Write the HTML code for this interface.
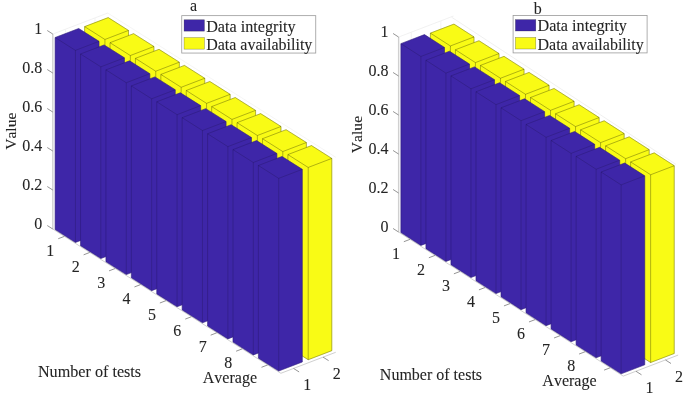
<!DOCTYPE html>
<html><head><meta charset="utf-8"><title>Figure</title>
<style>
html,body{margin:0;padding:0;background:#fff;}
svg{display:block;will-change:transform;}
text{font-family:"Liberation Serif","DejaVu Serif",serif;fill:#242424;stroke:#242424;stroke-width:0.08px;font-kerning:none;}
</style></head><body>
<svg width="685" height="397" viewBox="0 0 685 397">
<rect width="685" height="397" fill="#fff"/>
<g>
<line x1="52.82" y1="34.06" x2="107.69" y2="13.04" stroke="#eeeeee" stroke-width="0.8" stroke-opacity="1"/>
<line x1="107.69" y1="13.04" x2="335.75" y2="157.27" stroke="#f3f3f3" stroke-width="0.8" stroke-opacity="1"/>
<line x1="65.51" y1="224.20" x2="65.51" y2="29.20" stroke="#f0f0f0" stroke-width="0.8" stroke-opacity="1"/>
<line x1="95.01" y1="212.90" x2="95.01" y2="17.90" stroke="#f0f0f0" stroke-width="0.8" stroke-opacity="1"/>
<line x1="52.82" y1="229.06" x2="52.82" y2="34.06" stroke="#d0d0d0" stroke-width="1.4" stroke-opacity="1"/>
<line x1="52.82" y1="229.06" x2="280.88" y2="373.29" stroke="#d0d0d0" stroke-width="1" stroke-opacity="1"/>
<line x1="280.88" y1="373.29" x2="335.75" y2="352.27" stroke="#d0d0d0" stroke-width="1" stroke-opacity="1"/>
<line x1="52.82" y1="229.06" x2="47.25" y2="225.53" stroke="#7a7a7a" stroke-width="0.8" stroke-opacity="1"/>
<text x="42.25" y="228.83" font-size="16" text-anchor="end" >0</text>
<line x1="52.82" y1="190.06" x2="47.25" y2="186.53" stroke="#7a7a7a" stroke-width="0.8" stroke-opacity="1"/>
<text x="42.25" y="189.83" font-size="16" text-anchor="end" >0.2</text>
<line x1="52.82" y1="151.06" x2="47.25" y2="147.53" stroke="#7a7a7a" stroke-width="0.8" stroke-opacity="1"/>
<text x="42.25" y="150.83" font-size="16" text-anchor="end" >0.4</text>
<line x1="52.82" y1="112.06" x2="47.25" y2="108.53" stroke="#7a7a7a" stroke-width="0.8" stroke-opacity="1"/>
<text x="42.25" y="111.83" font-size="16" text-anchor="end" >0.6</text>
<line x1="52.82" y1="73.06" x2="47.25" y2="69.53" stroke="#7a7a7a" stroke-width="0.8" stroke-opacity="1"/>
<text x="42.25" y="72.83" font-size="16" text-anchor="end" >0.8</text>
<line x1="52.82" y1="34.06" x2="47.25" y2="30.53" stroke="#7a7a7a" stroke-width="0.8" stroke-opacity="1"/>
<text x="42.25" y="33.83" font-size="16" text-anchor="end" >1</text>
<line x1="64.38" y1="236.37" x2="58.22" y2="238.73" stroke="#7a7a7a" stroke-width="0.8" stroke-opacity="1"/>
<text x="50.32" y="255.93" font-size="16" text-anchor="middle" >1</text>
<line x1="89.79" y1="252.44" x2="83.63" y2="254.80" stroke="#7a7a7a" stroke-width="0.8" stroke-opacity="1"/>
<text x="75.73" y="272.00" font-size="16" text-anchor="middle" >2</text>
<line x1="115.20" y1="268.51" x2="109.04" y2="270.87" stroke="#7a7a7a" stroke-width="0.8" stroke-opacity="1"/>
<text x="101.14" y="288.07" font-size="16" text-anchor="middle" >3</text>
<line x1="140.62" y1="284.58" x2="134.45" y2="286.94" stroke="#7a7a7a" stroke-width="0.8" stroke-opacity="1"/>
<text x="126.55" y="304.14" font-size="16" text-anchor="middle" >4</text>
<line x1="166.02" y1="300.65" x2="159.86" y2="303.01" stroke="#7a7a7a" stroke-width="0.8" stroke-opacity="1"/>
<text x="151.96" y="320.21" font-size="16" text-anchor="middle" >5</text>
<line x1="191.44" y1="316.72" x2="185.27" y2="319.08" stroke="#7a7a7a" stroke-width="0.8" stroke-opacity="1"/>
<text x="177.37" y="336.28" font-size="16" text-anchor="middle" >6</text>
<line x1="216.84" y1="332.79" x2="210.68" y2="335.15" stroke="#7a7a7a" stroke-width="0.8" stroke-opacity="1"/>
<text x="202.78" y="352.35" font-size="16" text-anchor="middle" >7</text>
<line x1="242.25" y1="348.86" x2="236.09" y2="351.22" stroke="#7a7a7a" stroke-width="0.8" stroke-opacity="1"/>
<text x="228.19" y="368.42" font-size="16" text-anchor="middle" >8</text>
<line x1="267.66" y1="364.93" x2="261.50" y2="367.29" stroke="#7a7a7a" stroke-width="0.8" stroke-opacity="1"/>
<text x="229.90" y="382.70" font-size="16" text-anchor="middle" >Average</text>
<line x1="293.56" y1="368.43" x2="299.14" y2="371.95" stroke="#7a7a7a" stroke-width="0.8" stroke-opacity="1"/>
<text x="307.14" y="390.15" font-size="16" text-anchor="middle" >1</text>
<line x1="323.06" y1="357.13" x2="328.64" y2="360.65" stroke="#7a7a7a" stroke-width="0.8" stroke-opacity="1"/>
<text x="336.64" y="378.85" font-size="16" text-anchor="middle" >2</text>
<polygon points="84.61,218.30 104.93,231.16 128.53,222.12 128.53,30.43 108.21,17.58 84.61,26.62" fill="#f9fb15" stroke="#f9fb15" stroke-width="0.5" stroke-linejoin="round"/>
<path d="M84.61 218.30 L104.93 231.16 L128.53 222.12 L128.53 30.43 L108.21 17.58 L84.61 26.62Z M84.61 26.62 L104.93 39.47 L128.53 30.43 M104.93 231.16 L104.93 39.47" fill="none" stroke="#000" stroke-opacity="0.42" stroke-width="0.7" stroke-linejoin="round"/>
<polygon points="110.02,234.37 130.34,247.23 153.94,238.19 153.94,46.50 133.62,33.65 110.02,42.69" fill="#f9fb15" stroke="#f9fb15" stroke-width="0.5" stroke-linejoin="round"/>
<path d="M110.02 234.37 L130.34 247.23 L153.94 238.19 L153.94 46.50 L133.62 33.65 L110.02 42.69Z M110.02 42.69 L130.34 55.54 L153.94 46.50 M130.34 247.23 L130.34 55.54" fill="none" stroke="#000" stroke-opacity="0.42" stroke-width="0.7" stroke-linejoin="round"/>
<polygon points="135.43,250.44 155.75,263.30 179.35,254.26 179.35,62.18 159.03,49.33 135.43,58.37" fill="#f9fb15" stroke="#f9fb15" stroke-width="0.5" stroke-linejoin="round"/>
<path d="M135.43 250.44 L155.75 263.30 L179.35 254.26 L179.35 62.18 L159.03 49.33 L135.43 58.37Z M135.43 58.37 L155.75 71.22 L179.35 62.18 M155.75 263.30 L155.75 71.22" fill="none" stroke="#000" stroke-opacity="0.42" stroke-width="0.7" stroke-linejoin="round"/>
<polygon points="160.84,266.51 181.16,279.37 204.76,270.33 204.76,78.25 184.44,65.40 160.84,74.44" fill="#f9fb15" stroke="#f9fb15" stroke-width="0.5" stroke-linejoin="round"/>
<path d="M160.84 266.51 L181.16 279.37 L204.76 270.33 L204.76 78.25 L184.44 65.40 L160.84 74.44Z M160.84 74.44 L181.16 87.29 L204.76 78.25 M181.16 279.37 L181.16 87.29" fill="none" stroke="#000" stroke-opacity="0.42" stroke-width="0.7" stroke-linejoin="round"/>
<polygon points="186.25,282.58 206.57,295.44 230.17,286.40 230.17,94.32 209.85,81.47 186.25,90.51" fill="#f9fb15" stroke="#f9fb15" stroke-width="0.5" stroke-linejoin="round"/>
<path d="M186.25 282.58 L206.57 295.44 L230.17 286.40 L230.17 94.32 L209.85 81.47 L186.25 90.51Z M186.25 90.51 L206.57 103.36 L230.17 94.32 M206.57 295.44 L206.57 103.36" fill="none" stroke="#000" stroke-opacity="0.42" stroke-width="0.7" stroke-linejoin="round"/>
<polygon points="211.66,298.65 231.98,311.51 255.58,302.47 255.58,110.39 235.26,97.54 211.66,106.58" fill="#f9fb15" stroke="#f9fb15" stroke-width="0.5" stroke-linejoin="round"/>
<path d="M211.66 298.65 L231.98 311.51 L255.58 302.47 L255.58 110.39 L235.26 97.54 L211.66 106.58Z M211.66 106.58 L231.98 119.43 L255.58 110.39 M231.98 311.51 L231.98 119.43" fill="none" stroke="#000" stroke-opacity="0.42" stroke-width="0.7" stroke-linejoin="round"/>
<polygon points="237.07,314.72 257.39,327.58 280.99,318.54 280.99,126.46 260.67,113.61 237.07,122.65" fill="#f9fb15" stroke="#f9fb15" stroke-width="0.5" stroke-linejoin="round"/>
<path d="M237.07 314.72 L257.39 327.58 L280.99 318.54 L280.99 126.46 L260.67 113.61 L237.07 122.65Z M237.07 122.65 L257.39 135.50 L280.99 126.46 M257.39 327.58 L257.39 135.50" fill="none" stroke="#000" stroke-opacity="0.42" stroke-width="0.7" stroke-linejoin="round"/>
<polygon points="262.48,330.79 282.80,343.65 306.40,334.61 306.40,142.53 286.08,129.68 262.48,138.72" fill="#f9fb15" stroke="#f9fb15" stroke-width="0.5" stroke-linejoin="round"/>
<path d="M262.48 330.79 L282.80 343.65 L306.40 334.61 L306.40 142.53 L286.08 129.68 L262.48 138.72Z M262.48 138.72 L282.80 151.57 L306.40 142.53 M282.80 343.65 L282.80 151.57" fill="none" stroke="#000" stroke-opacity="0.42" stroke-width="0.7" stroke-linejoin="round"/>
<polygon points="287.89,346.86 308.21,359.72 331.81,350.68 331.81,158.41 311.49,145.55 287.89,154.59" fill="#f9fb15" stroke="#f9fb15" stroke-width="0.5" stroke-linejoin="round"/>
<path d="M287.89 346.86 L308.21 359.72 L331.81 350.68 L331.81 158.41 L311.49 145.55 L287.89 154.59Z M287.89 154.59 L308.21 167.45 L331.81 158.41 M308.21 359.72 L308.21 167.45" fill="none" stroke="#000" stroke-opacity="0.42" stroke-width="0.7" stroke-linejoin="round"/>
<polygon points="55.11,229.60 75.43,242.46 99.03,233.42 99.03,41.34 78.71,28.49 55.11,37.53" fill="#3e26a8" stroke="#3e26a8" stroke-width="0.5" stroke-linejoin="round"/>
<path d="M55.11 229.60 L75.43 242.46 L99.03 233.42 L99.03 41.34 L78.71 28.49 L55.11 37.53Z M55.11 37.53 L75.43 50.38 L99.03 41.34 M75.43 242.46 L75.43 50.38" fill="none" stroke="#000" stroke-opacity="0.22" stroke-width="0.7" stroke-linejoin="round"/>
<polygon points="80.52,245.67 100.84,258.53 124.44,249.49 124.44,57.80 104.12,44.95 80.52,53.99" fill="#3e26a8" stroke="#3e26a8" stroke-width="0.5" stroke-linejoin="round"/>
<path d="M80.52 245.67 L100.84 258.53 L124.44 249.49 L124.44 57.80 L104.12 44.95 L80.52 53.99Z M80.52 53.99 L100.84 66.84 L124.44 57.80 M100.84 258.53 L100.84 66.84" fill="none" stroke="#000" stroke-opacity="0.22" stroke-width="0.7" stroke-linejoin="round"/>
<polygon points="105.93,261.74 126.25,274.60 149.85,265.56 149.85,73.68 129.53,60.82 105.93,69.86" fill="#3e26a8" stroke="#3e26a8" stroke-width="0.5" stroke-linejoin="round"/>
<path d="M105.93 261.74 L126.25 274.60 L149.85 265.56 L149.85 73.68 L129.53 60.82 L105.93 69.86Z M105.93 69.86 L126.25 82.72 L149.85 73.68 M126.25 274.60 L126.25 82.72" fill="none" stroke="#000" stroke-opacity="0.22" stroke-width="0.7" stroke-linejoin="round"/>
<polygon points="131.34,277.81 151.66,290.67 175.26,281.63 175.26,89.75 154.94,76.89 131.34,85.93" fill="#3e26a8" stroke="#3e26a8" stroke-width="0.5" stroke-linejoin="round"/>
<path d="M131.34 277.81 L151.66 290.67 L175.26 281.63 L175.26 89.75 L154.94 76.89 L131.34 85.93Z M131.34 85.93 L151.66 98.79 L175.26 89.75 M151.66 290.67 L151.66 98.79" fill="none" stroke="#000" stroke-opacity="0.22" stroke-width="0.7" stroke-linejoin="round"/>
<polygon points="156.75,293.88 177.07,306.74 200.67,297.70 200.67,105.62 180.35,92.77 156.75,101.81" fill="#3e26a8" stroke="#3e26a8" stroke-width="0.5" stroke-linejoin="round"/>
<path d="M156.75 293.88 L177.07 306.74 L200.67 297.70 L200.67 105.62 L180.35 92.77 L156.75 101.81Z M156.75 101.81 L177.07 114.66 L200.67 105.62 M177.07 306.74 L177.07 114.66" fill="none" stroke="#000" stroke-opacity="0.22" stroke-width="0.7" stroke-linejoin="round"/>
<polygon points="182.16,309.95 202.48,322.81 226.08,313.77 226.08,121.50 205.76,108.64 182.16,117.68" fill="#3e26a8" stroke="#3e26a8" stroke-width="0.5" stroke-linejoin="round"/>
<path d="M182.16 309.95 L202.48 322.81 L226.08 313.77 L226.08 121.50 L205.76 108.64 L182.16 117.68Z M182.16 117.68 L202.48 130.54 L226.08 121.50 M202.48 322.81 L202.48 130.54" fill="none" stroke="#000" stroke-opacity="0.22" stroke-width="0.7" stroke-linejoin="round"/>
<polygon points="207.57,326.02 227.89,338.88 251.49,329.84 251.49,137.57 231.17,124.71 207.57,133.75" fill="#3e26a8" stroke="#3e26a8" stroke-width="0.5" stroke-linejoin="round"/>
<path d="M207.57 326.02 L227.89 338.88 L251.49 329.84 L251.49 137.57 L231.17 124.71 L207.57 133.75Z M207.57 133.75 L227.89 146.61 L251.49 137.57 M227.89 338.88 L227.89 146.61" fill="none" stroke="#000" stroke-opacity="0.22" stroke-width="0.7" stroke-linejoin="round"/>
<polygon points="232.98,342.09 253.30,354.95 276.90,345.91 276.90,153.44 256.58,140.59 232.98,149.63" fill="#3e26a8" stroke="#3e26a8" stroke-width="0.5" stroke-linejoin="round"/>
<path d="M232.98 342.09 L253.30 354.95 L276.90 345.91 L276.90 153.44 L256.58 140.59 L232.98 149.63Z M232.98 149.63 L253.30 162.48 L276.90 153.44 M253.30 354.95 L253.30 162.48" fill="none" stroke="#000" stroke-opacity="0.22" stroke-width="0.7" stroke-linejoin="round"/>
<polygon points="258.39,358.16 278.71,371.02 302.31,361.98 302.31,169.32 281.99,156.46 258.39,165.50" fill="#3e26a8" stroke="#3e26a8" stroke-width="0.5" stroke-linejoin="round"/>
<path d="M258.39 358.16 L278.71 371.02 L302.31 361.98 L302.31 169.32 L281.99 156.46 L258.39 165.50Z M258.39 165.50 L278.71 178.36 L302.31 169.32 M278.71 371.02 L278.71 178.36" fill="none" stroke="#000" stroke-opacity="0.22" stroke-width="0.7" stroke-linejoin="round"/>
<text transform="translate(15.62,131.26) rotate(-90)" font-size="15.6" text-anchor="middle">Value</text>
<text x="89.55" y="377.10" font-size="16.17" text-anchor="middle" >Number of tests</text>
<text x="193.50" y="11.10" font-size="16" text-anchor="middle" >a</text>
<rect x="181.75" y="15.65" width="134.0" height="37.4" fill="#fff" stroke="#9a9a9a" stroke-width="0.8"/>
<rect x="184.05" y="19.75" width="20.4" height="11.4" fill="#3e26a8" stroke="#222" stroke-opacity="0.5" stroke-width="0.5"/>
<rect x="184.05" y="37.55" width="20.4" height="11.6" fill="#f9fb15" stroke="#222" stroke-opacity="0.5" stroke-width="0.5"/>
<text x="206.15" y="31.55" font-size="16.2" text-anchor="start" >Data integrity</text>
<text x="206.15" y="49.65" font-size="16" text-anchor="start" >Data availability</text>
</g>
<g>
<line x1="398.62" y1="37.05" x2="453.49" y2="16.03" stroke="#eeeeee" stroke-width="0.8" stroke-opacity="1"/>
<line x1="451.60" y1="17.20" x2="676.00" y2="164.40" stroke="#ececec" stroke-width="0.8" stroke-opacity="1"/>
<line x1="411.30" y1="227.19" x2="411.30" y2="32.19" stroke="#f0f0f0" stroke-width="0.8" stroke-opacity="1"/>
<line x1="440.80" y1="215.89" x2="440.80" y2="20.89" stroke="#f0f0f0" stroke-width="0.8" stroke-opacity="1"/>
<line x1="398.62" y1="232.05" x2="398.62" y2="37.05" stroke="#d0d0d0" stroke-width="1.4" stroke-opacity="1"/>
<line x1="398.62" y1="232.05" x2="623.26" y2="376.10" stroke="#d0d0d0" stroke-width="1" stroke-opacity="1"/>
<line x1="623.26" y1="376.10" x2="678.13" y2="355.08" stroke="#d0d0d0" stroke-width="1" stroke-opacity="1"/>
<line x1="398.62" y1="232.05" x2="393.06" y2="228.48" stroke="#7a7a7a" stroke-width="0.8" stroke-opacity="1"/>
<text x="388.56" y="231.78" font-size="16" text-anchor="end" >0</text>
<line x1="398.62" y1="193.05" x2="393.06" y2="189.48" stroke="#7a7a7a" stroke-width="0.8" stroke-opacity="1"/>
<text x="388.56" y="192.78" font-size="16" text-anchor="end" >0.2</text>
<line x1="398.62" y1="154.05" x2="393.06" y2="150.48" stroke="#7a7a7a" stroke-width="0.8" stroke-opacity="1"/>
<text x="388.56" y="153.78" font-size="16" text-anchor="end" >0.4</text>
<line x1="398.62" y1="115.05" x2="393.06" y2="111.48" stroke="#7a7a7a" stroke-width="0.8" stroke-opacity="1"/>
<text x="388.56" y="114.78" font-size="16" text-anchor="end" >0.6</text>
<line x1="398.62" y1="76.05" x2="393.06" y2="72.48" stroke="#7a7a7a" stroke-width="0.8" stroke-opacity="1"/>
<text x="388.56" y="75.78" font-size="16" text-anchor="end" >0.8</text>
<line x1="398.62" y1="37.05" x2="393.06" y2="33.48" stroke="#7a7a7a" stroke-width="0.8" stroke-opacity="1"/>
<text x="388.56" y="36.78" font-size="16" text-anchor="end" >1</text>
<line x1="410.00" y1="239.35" x2="403.84" y2="241.71" stroke="#7a7a7a" stroke-width="0.8" stroke-opacity="1"/>
<text x="395.94" y="258.91" font-size="16" text-anchor="middle" >1</text>
<line x1="435.04" y1="255.40" x2="428.87" y2="257.76" stroke="#7a7a7a" stroke-width="0.8" stroke-opacity="1"/>
<text x="420.97" y="274.96" font-size="16" text-anchor="middle" >2</text>
<line x1="460.07" y1="271.45" x2="453.90" y2="273.81" stroke="#7a7a7a" stroke-width="0.8" stroke-opacity="1"/>
<text x="446.00" y="291.01" font-size="16" text-anchor="middle" >3</text>
<line x1="485.10" y1="287.50" x2="478.93" y2="289.86" stroke="#7a7a7a" stroke-width="0.8" stroke-opacity="1"/>
<text x="471.03" y="307.06" font-size="16" text-anchor="middle" >4</text>
<line x1="510.12" y1="303.55" x2="503.96" y2="305.91" stroke="#7a7a7a" stroke-width="0.8" stroke-opacity="1"/>
<text x="496.06" y="323.11" font-size="16" text-anchor="middle" >5</text>
<line x1="535.15" y1="319.60" x2="528.99" y2="321.96" stroke="#7a7a7a" stroke-width="0.8" stroke-opacity="1"/>
<text x="521.09" y="339.16" font-size="16" text-anchor="middle" >6</text>
<line x1="560.19" y1="335.65" x2="554.02" y2="338.01" stroke="#7a7a7a" stroke-width="0.8" stroke-opacity="1"/>
<text x="546.12" y="355.21" font-size="16" text-anchor="middle" >7</text>
<line x1="585.22" y1="351.70" x2="579.05" y2="354.06" stroke="#7a7a7a" stroke-width="0.8" stroke-opacity="1"/>
<text x="571.15" y="371.26" font-size="16" text-anchor="middle" >8</text>
<line x1="610.25" y1="367.75" x2="604.08" y2="370.11" stroke="#7a7a7a" stroke-width="0.8" stroke-opacity="1"/>
<text x="569.45" y="385.60" font-size="16" text-anchor="middle" >Average</text>
<line x1="635.95" y1="371.24" x2="641.50" y2="374.80" stroke="#7a7a7a" stroke-width="0.8" stroke-opacity="1"/>
<text x="649.50" y="393.00" font-size="16" text-anchor="middle" >1</text>
<line x1="665.45" y1="359.94" x2="671.00" y2="363.50" stroke="#7a7a7a" stroke-width="0.8" stroke-opacity="1"/>
<text x="679.00" y="381.70" font-size="16" text-anchor="middle" >2</text>
<polygon points="430.38,221.29 450.40,234.13 474.00,225.09 474.00,36.92 453.98,24.08 430.38,33.12" fill="#f9fb15" stroke="#f9fb15" stroke-width="0.5" stroke-linejoin="round"/>
<path d="M430.38 221.29 L450.40 234.13 L474.00 225.09 L474.00 36.92 L453.98 24.08 L430.38 33.12Z M430.38 33.12 L450.40 45.96 L474.00 36.92 M450.40 234.13 L450.40 45.96" fill="none" stroke="#000" stroke-opacity="0.42" stroke-width="0.7" stroke-linejoin="round"/>
<polygon points="455.41,237.34 475.43,250.18 499.03,241.14 499.03,53.55 479.01,40.71 455.41,49.75" fill="#f9fb15" stroke="#f9fb15" stroke-width="0.5" stroke-linejoin="round"/>
<path d="M455.41 237.34 L475.43 250.18 L499.03 241.14 L499.03 53.55 L479.01 40.71 L455.41 49.75Z M455.41 49.75 L475.43 62.59 L499.03 53.55 M475.43 250.18 L475.43 62.59" fill="none" stroke="#000" stroke-opacity="0.42" stroke-width="0.7" stroke-linejoin="round"/>
<polygon points="480.44,253.39 500.46,266.23 524.06,257.19 524.06,69.21 504.04,56.37 480.44,65.41" fill="#f9fb15" stroke="#f9fb15" stroke-width="0.5" stroke-linejoin="round"/>
<path d="M480.44 253.39 L500.46 266.23 L524.06 257.19 L524.06 69.21 L504.04 56.37 L480.44 65.41Z M480.44 65.41 L500.46 78.25 L524.06 69.21 M500.46 266.23 L500.46 78.25" fill="none" stroke="#000" stroke-opacity="0.42" stroke-width="0.7" stroke-linejoin="round"/>
<polygon points="505.47,269.44 525.49,282.28 549.09,273.24 549.09,85.26 529.07,72.42 505.47,81.46" fill="#f9fb15" stroke="#f9fb15" stroke-width="0.5" stroke-linejoin="round"/>
<path d="M505.47 269.44 L525.49 282.28 L549.09 273.24 L549.09 85.26 L529.07 72.42 L505.47 81.46Z M505.47 81.46 L525.49 94.30 L549.09 85.26 M525.49 282.28 L525.49 94.30" fill="none" stroke="#000" stroke-opacity="0.42" stroke-width="0.7" stroke-linejoin="round"/>
<polygon points="530.50,285.49 550.52,298.33 574.12,289.29 574.12,101.31 554.10,88.47 530.50,97.51" fill="#f9fb15" stroke="#f9fb15" stroke-width="0.5" stroke-linejoin="round"/>
<path d="M530.50 285.49 L550.52 298.33 L574.12 289.29 L574.12 101.31 L554.10 88.47 L530.50 97.51Z M530.50 97.51 L550.52 110.35 L574.12 101.31 M550.52 298.33 L550.52 110.35" fill="none" stroke="#000" stroke-opacity="0.42" stroke-width="0.7" stroke-linejoin="round"/>
<polygon points="555.53,301.54 575.55,314.38 599.15,305.34 599.15,117.56 579.13,104.72 555.53,113.75" fill="#f9fb15" stroke="#f9fb15" stroke-width="0.5" stroke-linejoin="round"/>
<path d="M555.53 301.54 L575.55 314.38 L599.15 305.34 L599.15 117.56 L579.13 104.72 L555.53 113.75Z M555.53 113.75 L575.55 126.59 L599.15 117.56 M575.55 314.38 L575.55 126.59" fill="none" stroke="#000" stroke-opacity="0.42" stroke-width="0.7" stroke-linejoin="round"/>
<polygon points="580.56,317.59 600.58,330.43 624.18,321.39 624.18,133.60 604.16,120.77 580.56,129.80" fill="#f9fb15" stroke="#f9fb15" stroke-width="0.5" stroke-linejoin="round"/>
<path d="M580.56 317.59 L600.58 330.43 L624.18 321.39 L624.18 133.60 L604.16 120.77 L580.56 129.80Z M580.56 129.80 L600.58 142.65 L624.18 133.60 M600.58 330.43 L600.58 142.65" fill="none" stroke="#000" stroke-opacity="0.42" stroke-width="0.7" stroke-linejoin="round"/>
<polygon points="605.59,333.64 625.61,346.48 649.21,337.44 649.21,149.66 629.19,136.82 605.59,145.85" fill="#f9fb15" stroke="#f9fb15" stroke-width="0.5" stroke-linejoin="round"/>
<path d="M605.59 333.64 L625.61 346.48 L649.21 337.44 L649.21 149.66 L629.19 136.82 L605.59 145.85Z M605.59 145.85 L625.61 158.70 L649.21 149.66 M625.61 346.48 L625.61 158.70" fill="none" stroke="#000" stroke-opacity="0.42" stroke-width="0.7" stroke-linejoin="round"/>
<polygon points="630.62,349.69 650.64,362.53 674.24,353.49 674.24,165.71 654.22,152.86 630.62,161.91" fill="#f9fb15" stroke="#f9fb15" stroke-width="0.5" stroke-linejoin="round"/>
<path d="M630.62 349.69 L650.64 362.53 L674.24 353.49 L674.24 165.71 L654.22 152.86 L630.62 161.91Z M630.62 161.91 L650.64 174.74 L674.24 165.71 M650.64 362.53 L650.64 174.74" fill="none" stroke="#000" stroke-opacity="0.42" stroke-width="0.7" stroke-linejoin="round"/>
<polygon points="400.88,232.59 420.90,245.43 444.50,236.39 444.50,47.44 424.48,34.60 400.88,43.64" fill="#3e26a8" stroke="#3e26a8" stroke-width="0.5" stroke-linejoin="round"/>
<path d="M400.88 232.59 L420.90 245.43 L444.50 236.39 L444.50 47.44 L424.48 34.60 L400.88 43.64Z M400.88 43.64 L420.90 56.48 L444.50 47.44 M420.90 245.43 L420.90 56.48" fill="none" stroke="#000" stroke-opacity="0.22" stroke-width="0.7" stroke-linejoin="round"/>
<polygon points="425.91,248.64 445.93,261.48 469.53,252.44 469.53,64.07 449.51,51.23 425.91,60.27" fill="#3e26a8" stroke="#3e26a8" stroke-width="0.5" stroke-linejoin="round"/>
<path d="M425.91 248.64 L445.93 261.48 L469.53 252.44 L469.53 64.07 L449.51 51.23 L425.91 60.27Z M425.91 60.27 L445.93 73.11 L469.53 64.07 M445.93 261.48 L445.93 73.11" fill="none" stroke="#000" stroke-opacity="0.22" stroke-width="0.7" stroke-linejoin="round"/>
<polygon points="450.94,264.69 470.96,277.53 494.56,268.49 494.56,79.73 474.54,66.89 450.94,75.93" fill="#3e26a8" stroke="#3e26a8" stroke-width="0.5" stroke-linejoin="round"/>
<path d="M450.94 264.69 L470.96 277.53 L494.56 268.49 L494.56 79.73 L474.54 66.89 L450.94 75.93Z M450.94 75.93 L470.96 88.77 L494.56 79.73 M470.96 277.53 L470.96 88.77" fill="none" stroke="#000" stroke-opacity="0.22" stroke-width="0.7" stroke-linejoin="round"/>
<polygon points="475.97,280.74 495.99,293.58 519.59,284.54 519.59,95.59 499.57,82.75 475.97,91.79" fill="#3e26a8" stroke="#3e26a8" stroke-width="0.5" stroke-linejoin="round"/>
<path d="M475.97 280.74 L495.99 293.58 L519.59 284.54 L519.59 95.59 L499.57 82.75 L475.97 91.79Z M475.97 91.79 L495.99 104.63 L519.59 95.59 M495.99 293.58 L495.99 104.63" fill="none" stroke="#000" stroke-opacity="0.22" stroke-width="0.7" stroke-linejoin="round"/>
<polygon points="501.00,296.79 521.02,309.63 544.62,300.59 544.62,111.64 524.60,98.80 501.00,107.84" fill="#3e26a8" stroke="#3e26a8" stroke-width="0.5" stroke-linejoin="round"/>
<path d="M501.00 296.79 L521.02 309.63 L544.62 300.59 L544.62 111.64 L524.60 98.80 L501.00 107.84Z M501.00 107.84 L521.02 120.68 L544.62 111.64 M521.02 309.63 L521.02 120.68" fill="none" stroke="#000" stroke-opacity="0.22" stroke-width="0.7" stroke-linejoin="round"/>
<polygon points="526.03,312.84 546.05,325.68 569.65,316.64 569.65,128.27 549.63,115.43 526.03,124.47" fill="#3e26a8" stroke="#3e26a8" stroke-width="0.5" stroke-linejoin="round"/>
<path d="M526.03 312.84 L546.05 325.68 L569.65 316.64 L569.65 128.27 L549.63 115.43 L526.03 124.47Z M526.03 124.47 L546.05 137.31 L569.65 128.27 M546.05 325.68 L546.05 137.31" fill="none" stroke="#000" stroke-opacity="0.22" stroke-width="0.7" stroke-linejoin="round"/>
<polygon points="551.06,328.89 571.08,341.73 594.68,332.69 594.68,144.32 574.66,131.48 551.06,140.52" fill="#3e26a8" stroke="#3e26a8" stroke-width="0.5" stroke-linejoin="round"/>
<path d="M551.06 328.89 L571.08 341.73 L594.68 332.69 L594.68 144.32 L574.66 131.48 L551.06 140.52Z M551.06 140.52 L571.08 153.36 L594.68 144.32 M571.08 341.73 L571.08 153.36" fill="none" stroke="#000" stroke-opacity="0.22" stroke-width="0.7" stroke-linejoin="round"/>
<polygon points="576.09,344.94 596.11,357.78 619.71,348.74 619.71,160.18 599.69,147.34 576.09,156.38" fill="#3e26a8" stroke="#3e26a8" stroke-width="0.5" stroke-linejoin="round"/>
<path d="M576.09 344.94 L596.11 357.78 L619.71 348.74 L619.71 160.18 L599.69 147.34 L576.09 156.38Z M576.09 156.38 L596.11 169.22 L619.71 160.18 M596.11 357.78 L596.11 169.22" fill="none" stroke="#000" stroke-opacity="0.22" stroke-width="0.7" stroke-linejoin="round"/>
<polygon points="601.12,360.99 621.14,373.83 644.74,364.79 644.74,175.84 624.72,163.00 601.12,172.04" fill="#3e26a8" stroke="#3e26a8" stroke-width="0.5" stroke-linejoin="round"/>
<path d="M601.12 360.99 L621.14 373.83 L644.74 364.79 L644.74 175.84 L624.72 163.00 L601.12 172.04Z M601.12 172.04 L621.14 184.88 L644.74 175.84 M621.14 373.83 L621.14 184.88" fill="none" stroke="#000" stroke-opacity="0.22" stroke-width="0.7" stroke-linejoin="round"/>
<text transform="translate(362.22,134.55) rotate(-90)" font-size="15.6" text-anchor="middle">Value</text>
<text x="430.95" y="380.20" font-size="16.0" text-anchor="middle" >Number of tests</text>
<text x="537.70" y="13.90" font-size="16" text-anchor="middle" >b</text>
<rect x="513.10" y="15.50" width="134.0" height="37.4" fill="#fff" stroke="#9a9a9a" stroke-width="0.8"/>
<rect x="515.40" y="19.60" width="20.4" height="11.4" fill="#3e26a8" stroke="#222" stroke-opacity="0.5" stroke-width="0.5"/>
<rect x="515.40" y="37.40" width="20.4" height="11.6" fill="#f9fb15" stroke="#222" stroke-opacity="0.5" stroke-width="0.5"/>
<text x="537.50" y="31.40" font-size="16.2" text-anchor="start" >Data integrity</text>
<text x="537.50" y="49.50" font-size="16" text-anchor="start" >Data availability</text>
</g>
</svg>
</body></html>
